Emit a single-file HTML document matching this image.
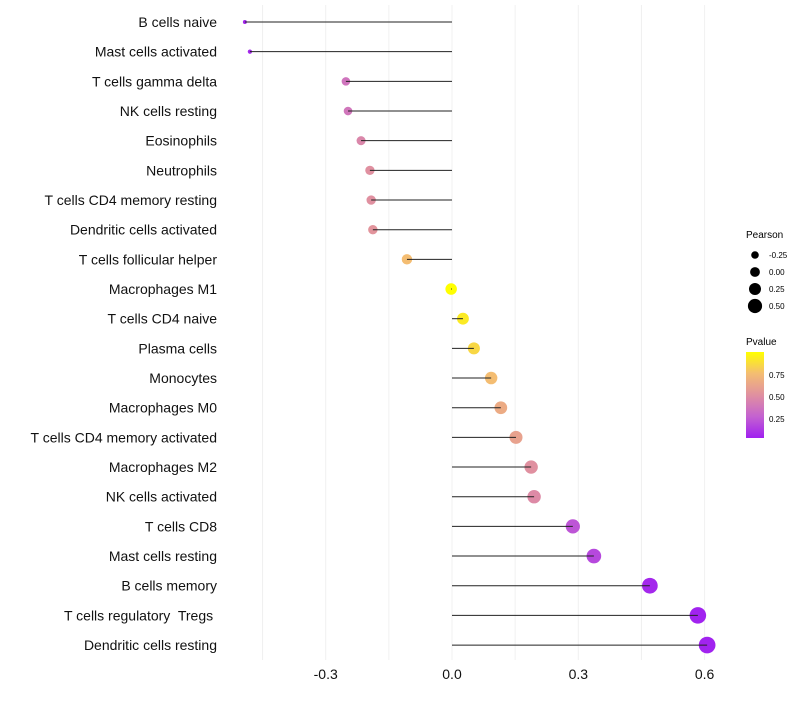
<!DOCTYPE html>
<html><head><meta charset="utf-8"><style>
body{margin:0;background:#fff;font-family:"Liberation Sans",sans-serif;}
svg text{font-family:"Liberation Sans",sans-serif;white-space:pre;}
</style></head><body>
<svg id="chart" width="800" height="700" xmlns="http://www.w3.org/2000/svg">
<g id="grid"></g><g id="marks"></g><g id="labels"></g>
<g id="legend">
<text x="746" y="238" font-size="10" fill="#000">Pearson</text>
<defs><linearGradient id="pg" x1="0" y1="1" x2="0" y2="0">
<stop offset="0" stop-color="#a020f0"/><stop offset="0.25" stop-color="#c462d0"/><stop offset="0.5" stop-color="#e090a0"/><stop offset="0.75" stop-color="#f4bd72"/><stop offset="1" stop-color="#ffff00"/></linearGradient></defs>
<text x="746" y="345" font-size="10" fill="#000">Pvalue</text>
<rect x="746" y="352" width="18" height="86" fill="url(#pg)"/>
<text x="769" y="378" font-size="8">0.75</text>
<text x="769" y="400" font-size="8">0.50</text>
<text x="769" y="422" font-size="8">0.25</text>
</g>
</svg>
<script>
const categories=["B cells naive","Mast cells activated","T cells gamma delta","NK cells resting","Eosinophils","Neutrophils","T cells CD4 memory resting","Dendritic cells activated","T cells follicular helper","Macrophages M1","T cells CD4 naive","Plasma cells","Monocytes","Macrophages M0","T cells CD4 memory activated","Macrophages M2","NK cells activated","T cells CD8","Mast cells resting","B cells memory","T cells regulatory  Tregs ","Dendritic cells resting"];
const pearson=[-0.492,-0.48,-0.252,-0.247,-0.216,-0.195,-0.192,-0.188,-0.107,-0.002,0.026,0.052,0.093,0.116,0.152,0.188,0.195,0.287,0.337,0.470,0.584,0.606];
const pvalue=[0.02,0.03,0.35,0.36,0.45,0.5,0.5,0.52,0.75,1.0,0.92,0.85,0.75,0.65,0.6,0.5,0.47,0.2,0.15,0.03,0.01,0.01];
const xTicks=[-0.3,0,0.3,0.6];
const xTickLabels=["-0.3","0.0","0.3","0.6"];
const gridVals=[-0.45,-0.3,-0.15,0,0.15,0.3,0.45,0.6];
const sizeLegendVals=[-0.25,0,0.25,0.5];
const sizeLegendLabels=["-0.25","0.00","0.25","0.50"];

const NS="http://www.w3.org/2000/svg";
const xs=v=>452+v*421;
const ys=i=>22+i*29.67;
const rs=v=>Math.sqrt(4+60*Math.max(0,v+0.49));
const stops=[[0,[160,32,240]],[0.25,[196,98,208]],[0.5,[224,144,160]],[0.75,[244,189,114]],[1,[255,255,0]]];
function col(p){for(let k=1;k<stops.length;k++){if(p<=stops[k][0]){const a=stops[k-1],b=stops[k];const t=(p-a[0])/(b[0]-a[0]);const c=a[1].map((v,j)=>Math.round(v+(b[1][j]-v)*t));return `rgb(${c})`;}}return "rgb(255,255,0)";}
function mk(t,attrs,parent){const e=document.createElementNS(NS,t);for(const k in attrs)e.setAttribute(k,attrs[k]);parent.appendChild(e);return e;}
const grid=document.getElementById('grid'),marks=document.getElementById('marks'),labels=document.getElementById('labels'),legend=document.getElementById('legend');
gridVals.forEach(v=>{const l=mk('line',{x1:xs(v),x2:xs(v),y1:5,y2:660,stroke:'#f0f0f0','stroke-width':1},grid);

});
xTicks.forEach((v,i)=>{const t=mk('text',{x:xs(v),y:679,'font-size':14,'text-anchor':'middle',fill:'#111'},labels);t.textContent=xTickLabels[i];

});
categories.forEach((c,i)=>{
const y=ys(i);
const t=mk('text',{x:217,y:y+5,'font-size':14,'text-anchor':'end',fill:'#111'},labels);t.textContent=c;


const p=mk('circle',{cx:xs(pearson[i]),cy:y,r:rs(pearson[i]),fill:col(pvalue[i])},marks);


const l=mk('line',{x1:xs(0),x2:xs(pearson[i]),y1:y,y2:y,stroke:'#222','stroke-width':1},marks);


});
sizeLegendVals.forEach((v,i)=>{const y=255+i*17;
const c=mk('circle',{cx:755,cy:y,r:3.8+i*1.1,fill:'#000'},legend);


const t=mk('text',{x:769,y:y+3,'font-size':8},legend);t.textContent=sizeLegendLabels[i];

});
</script>
</body></html>
